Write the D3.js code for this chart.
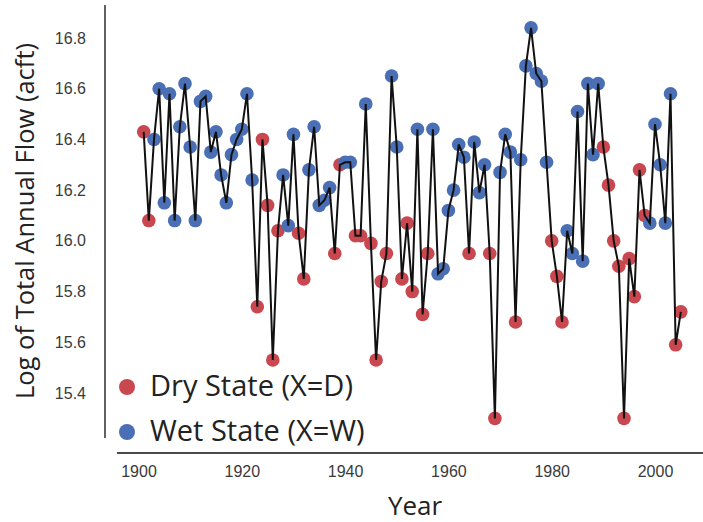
<!DOCTYPE html>
<html>
<head>
<meta charset="utf-8">
<script src="https://cdn.jsdelivr.net/npm/d3@7"></script>
<style>
  body { margin: 0; background: #fff; }
  svg { display: block; }
</style>
</head>
<body>
<svg width="703" height="522"></svg>
<script>
// log of total annual flow, one value per year starting 1901
var startYear = 1901;
var flow = [
  16.43, 16.08, 16.40, 16.60, 16.15, 16.58, 16.08, 16.45, 16.62, 16.37,
  16.08, 16.55, 16.57, 16.35, 16.43, 16.26, 16.15, 16.34, 16.40, 16.44,
  16.58, 16.24, 15.74, 16.40, 16.14, 15.53, 16.04, 16.26, 16.06, 16.42,
  16.03, 15.85, 16.28, 16.45, 16.14, 16.16, 16.21, 15.95, 16.30, 16.31,
  16.31, 16.02, 16.02, 16.54, 15.99, 15.53, 15.84, 15.95, 16.65, 16.37,
  15.85, 16.07, 15.80, 16.44, 15.71, 15.95, 16.44, 15.87, 15.89, 16.12,
  16.20, 16.38, 16.33, 15.95, 16.39, 16.19, 16.30, 15.95, 15.30, 16.27,
  16.42, 16.35, 15.68, 16.32, 16.69, 16.84, 16.66, 16.63, 16.31, 16.00,
  15.86, 15.68, 16.04, 15.95, 16.51, 15.92, 16.62, 16.34, 16.62, 16.37,
  16.22, 16.00, 15.90, 15.30, 15.93, 15.78, 16.28, 16.10, 16.07, 16.46,
  16.30, 16.07, 16.58, 15.59, 15.72
];
// hidden state for each year: D = dry, W = wet
var state = [
  "D","D","W","W","W","W","W","W","W","W",
  "W","W","W","W","W","W","W","W","W","W",
  "W","W","D","D","D","D","D","W","W","W",
  "D","D","W","W","W","W","W","D","D","W",
  "W","D","D","W","D","D","D","D","W","W",
  "D","D","D","W","D","D","W","W","W","W",
  "W","W","W","D","W","W","W","D","D","W",
  "W","W","D","W","W","W","W","W","W","D",
  "D","D","W","W","W","W","W","W","W","D",
  "D","D","D","D","D","D","D","D","W","W",
  "W","W","W","D","D"
];
var xTicks = [1900, 1920, 1940, 1960, 1980, 2000];
var yTicks = [15.4, 15.6, 15.8, 16.0, 16.2, 16.4, 16.6, 16.8];
var legendLabels = ["Dry State (X=D)", "Wet State (X=W)"];

var data = flow.map(function(v, i) {
  return { year: startYear + i, value: v, state: state[i] };
});

var svg = d3.select("svg");
var color = d3.scaleOrdinal().domain(["D", "W"]).range(["#c9474f", "#4a6fb5"]);

var x = d3.scaleLinear().domain([1900, 2000]).range([138.5, 655]);
var y = d3.scaleLinear().domain([15.4, 16.8]).range([393, 38]);

// spines (offset, seaborn style)
svg.append("line")
  .attr("x1", 105).attr("x2", 105).attr("y1", 5).attr("y2", 438)
  .attr("stroke", "#3a3a3a").attr("stroke-width", 1.6);
svg.append("line")
  .attr("x1", 117).attr("x2", 703).attr("y1", 453).attr("y2", 453)
  .attr("stroke", "#4a4a4a").attr("stroke-width", 2.2);

var yAxis = svg.append("g")
  .attr("transform", "translate(105,0)")
  .call(d3.axisLeft(y).tickValues(yTicks).tickFormat(d3.format(".1f")).tickSize(0).tickPadding(19));
var xAxis = svg.append("g")
  .attr("transform", "translate(0,462)")
  .call(d3.axisBottom(x).tickValues(xTicks).tickFormat(d3.format("d")).tickSize(0).tickPadding(4));

[yAxis, xAxis].forEach(function(a) {
  a.select(".domain").remove();
  a.selectAll("text")
    .attr("fill", "#3a3a3a")
    .style("font-family", "Liberation Sans, Arial, sans-serif")
    .style("font-size", "16px");
});

// axis titles
svg.append("text")
  .attr("transform", "translate(34,221) rotate(-90)")
  .attr("text-anchor", "middle")
  .attr("fill", "#222")
  .style("font-family", "Open Sans, sans-serif")
  .style("font-size", "25.5px")
  .text("Log of Total Annual Flow (acft)");

svg.append("text")
  .attr("x", 415).attr("y", 515)
  .attr("text-anchor", "middle")
  .attr("fill", "#222")
  .style("font-family", "Open Sans, sans-serif")
  .style("font-size", "26px")
  .text("Year");

// points
svg.append("g").selectAll("circle").data(data).enter()
  .append("circle")
  .attr("cx", d => x(d.year))
  .attr("cy", d => y(d.value))
  .attr("r", 6.8)
  .attr("fill", d => color(d.state));

// connecting line on top
var line = d3.line().x(d => x(d.year)).y(d => y(d.value));
svg.append("path")
  .datum(data)
  .attr("d", line)
  .attr("fill", "none")
  .attr("stroke", "#111")
  .attr("stroke-width", 2)
  .attr("stroke-linejoin", "miter");

// legend
var legend = svg.append("g").selectAll("g").data(["D", "W"]).enter()
  .append("g")
  .attr("transform", (d, i) => "translate(127," + (387 + i * 45) + ")");
legend.append("circle").attr("r", 8).attr("fill", d => color(d));
legend.append("text")
  .attr("x", 23).attr("y", 9)
  .attr("fill", "#222")
  .style("font-family", "Open Sans, sans-serif")
  .style("font-size", "29px")
  .text((d, i) => legendLabels[i]);
</script>
</body>
</html>
